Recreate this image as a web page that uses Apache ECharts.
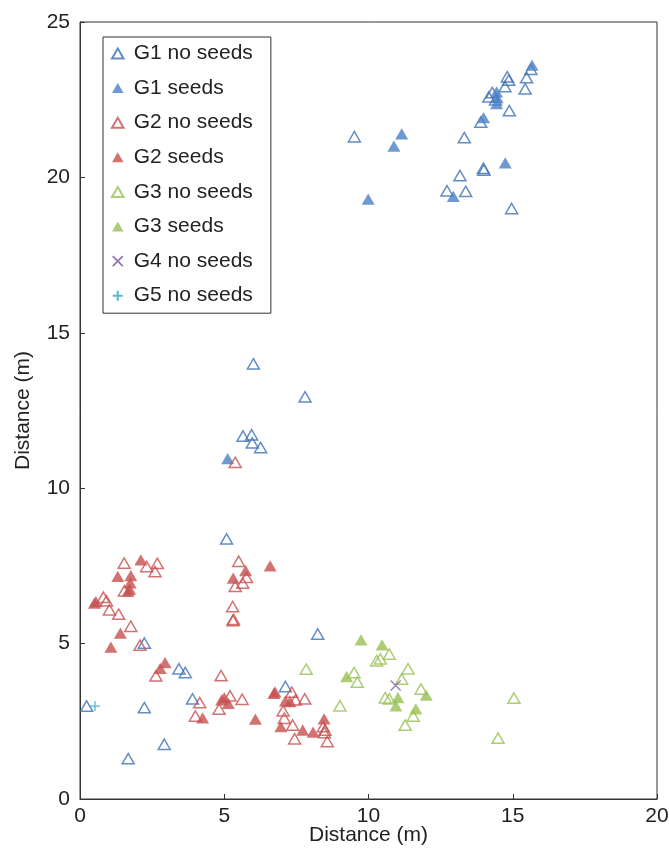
<!DOCTYPE html>
<html>
<head>
<meta charset="utf-8">
<script src="https://cdn.jsdelivr.net/npm/echarts@6/dist/echarts.min.js"></script>
<style>
  html, body { margin: 0; padding: 0; background: #fff; }
  #main { width: 669px; height: 848px; }
</style>
</head>
<body>
<div id="main"></div>
<script>
// ticks
const xTicks = [0, 5, 10, 15, 20]
const yTicks = [0, 5, 10, 15, 20, 25]

// [x, y] in metres
const g1NoSeeds = [
  [9.51, 21.31], [13.32, 21.28], [13.17, 20.06], [12.72, 19.57], [13.37, 19.55],
  [13.98, 20.29], [14.0, 20.24], [14.96, 19.0], [14.88, 22.15], [13.89, 21.78],
  [14.17, 22.59], [14.29, 22.73], [14.73, 22.92], [14.81, 23.24], [14.86, 23.13],
  [15.48, 23.21], [15.43, 22.85], [15.63, 23.48], [14.4, 22.5],
  [6.01, 14.0], [7.80, 12.94], [5.65, 11.68], [5.95, 11.72], [5.97, 11.46],
  [6.26, 11.31], [5.08, 8.37],
  [2.23, 5.02], [3.43, 4.19], [3.65, 4.07], [0.23, 2.99], [2.23, 2.94],
  [3.90, 3.22], [2.92, 1.76], [1.67, 1.30], [7.12, 3.62], [8.24, 5.31]
]
const g1Seeds = [
  [15.67, 23.61], [14.44, 22.75], [14.46, 22.57], [14.44, 22.37], [13.99, 21.92],
  [11.15, 21.40], [10.88, 21.01], [9.99, 19.30], [14.74, 20.47], [12.94, 19.39],
  [5.12, 10.95]
]
const g2NoSeeds = [
  [5.38, 10.83], [1.53, 7.59], [2.31, 7.48], [2.68, 7.58], [2.60, 7.32],
  [1.54, 6.70], [0.81, 6.49], [0.92, 6.38], [1.02, 6.09], [1.34, 5.95],
  [1.76, 5.56], [2.08, 4.95], [5.50, 7.65], [5.77, 7.13], [5.64, 6.95],
  [5.38, 6.84], [5.29, 6.19], [5.30, 5.74], [5.32, 5.78], [2.63, 3.96],
  [4.89, 3.97], [4.15, 3.10], [4.0, 2.67], [5.20, 3.32], [4.82, 2.89],
  [5.62, 3.21], [7.34, 3.44], [7.47, 3.19], [7.79, 3.22], [7.04, 2.84],
  [7.08, 2.60], [7.37, 2.38], [7.44, 1.94], [8.43, 2.33], [8.49, 2.22],
  [8.47, 2.14], [8.57, 1.85]
]
const g2Seeds = [
  [2.11, 7.69], [1.31, 7.16], [1.76, 7.19], [1.74, 6.95], [1.67, 6.69],
  [1.72, 6.75], [0.55, 6.35], [0.50, 6.30], [1.40, 5.34], [1.07, 4.89],
  [5.74, 7.35], [5.31, 7.11], [6.59, 7.50], [2.95, 4.39], [2.78, 4.20],
  [4.25, 2.61], [4.91, 3.19], [5.00, 3.26], [5.14, 3.08], [6.08, 2.57],
  [6.76, 3.45], [6.72, 3.40], [7.12, 3.16], [7.28, 3.13], [6.96, 2.33],
  [7.72, 2.22], [8.08, 2.15], [8.46, 2.58]
]
const g3NoSeeds = [
  [7.84, 4.18], [10.28, 4.45], [10.41, 4.51], [10.72, 4.66], [9.50, 4.07],
  [9.61, 3.76], [11.37, 4.19], [11.15, 3.86], [11.82, 3.54], [10.58, 3.26],
  [10.72, 3.22], [11.55, 2.67], [11.27, 2.38], [9.01, 3.0], [15.04, 3.25],
  [14.49, 1.96]
]
const g3Seeds = [
  [9.74, 5.12], [10.47, 4.96], [9.24, 3.94], [11.02, 3.26], [10.95, 3.0],
  [11.64, 2.90], [12.0, 3.34]
]
const g4NoSeeds = [[10.94, 3.65]]
const g5NoSeeds = [[0.52, 2.99]]

const FONT = '"Liberation Sans", Arial, sans-serif'
const TXT = '#222'
const blue = '#3d70b4', blueFill = '#4a7fc6'
const red = '#c6504f', green = '#98c152', purple = '#7b5ba6', cyan = '#2aa8c8'

const tri = 'path://M5,0L10,8.66L0,8.66Z'
const cross = 'path://M0,0L10,10M10,0L0,10'
const plus = 'path://M5,0L5,10M0,5L10,5'

function openTri(name, data, color) {
  return {
    name: name, type: 'scatter', data: data, symbol: tri, symbolSize: 12,
    symbolKeepAspect: true,
    itemStyle: { color: 'rgba(255,255,255,0)', borderColor: color, borderWidth: 1.5 }
  }
}
function fillTri(name, data, color) {
  return {
    name: name, type: 'scatter', data: data, symbol: tri, symbolSize: 13,
    symbolKeepAspect: true,
    itemStyle: { color: color }
  }
}
function lineMark(name, data, sym, color) {
  return {
    name: name, type: 'scatter', data: data, symbol: sym, symbolSize: 10,
    symbolKeepAspect: true,
    itemStyle: { color: 'rgba(255,255,255,0)', borderColor: color, borderWidth: 1.3 }
  }
}

var chart = echarts.init(document.getElementById('main'), null, { renderer: 'canvas' })

var option = {
  animation: false,
  backgroundColor: '#fff',
  textStyle: { fontFamily: FONT },
  grid: {
    left: 80, right: 12, top: 22, bottom: 49,
    outerBoundsMode: 'none', containLabel: false,
    show: true, borderColor: '#333', borderWidth: 1
  },
  legend: {
    orient: 'vertical', left: 103, top: 37,
    padding: [6, 18, 7, 8],
    borderColor: '#333', borderWidth: 1, backgroundColor: '#fff',
    itemWidth: 22, itemHeight: 10, itemGap: 13.6,
    symbolKeepAspect: true,
    textStyle: { fontSize: 21, color: TXT, fontFamily: FONT, lineHeight: 20 },
    data: ['G1 no seeds', 'G1 seeds', 'G2 no seeds', 'G2 seeds',
           'G3 no seeds', 'G3 seeds', 'G4 no seeds', 'G5 no seeds']
  },
  xAxis: {
    type: 'value', min: xTicks[0], max: xTicks[xTicks.length - 1], interval: 5,
    name: 'Distance (m)', nameLocation: 'middle', nameGap: 26, nameMoveOverlap: false,
    nameTextStyle: { fontSize: 21, color: TXT, fontFamily: FONT },
    axisLine: { lineStyle: { color: '#333', width: 1 } },
    axisTick: { inside: true, length: 5, lineStyle: { color: '#333' } },
    axisLabel: { fontSize: 21, color: TXT, margin: 7, fontFamily: FONT },
    splitLine: { show: false }
  },
  yAxis: {
    type: 'value', min: yTicks[0], max: yTicks[yTicks.length - 1], interval: 5,
    name: 'Distance (m)', nameLocation: 'middle', nameGap: 46, nameMoveOverlap: false,
    nameTextStyle: { fontSize: 21, color: TXT, fontFamily: FONT },
    axisLine: { show: true, lineStyle: { color: '#333', width: 1 } },
    axisTick: { show: true, inside: true, length: 5, lineStyle: { color: '#333' } },
    axisLabel: { fontSize: 21, color: TXT, margin: 10, fontFamily: FONT },
    splitLine: { show: false }
  },
  series: [
    openTri('G1 no seeds', g1NoSeeds, blue),
    fillTri('G1 seeds', g1Seeds, blueFill),
    openTri('G2 no seeds', g2NoSeeds, red),
    fillTri('G2 seeds', g2Seeds, red),
    openTri('G3 no seeds', g3NoSeeds, green),
    fillTri('G3 seeds', g3Seeds, green),
    lineMark('G4 no seeds', g4NoSeeds, cross, purple),
    lineMark('G5 no seeds', g5NoSeeds, plus, cyan)
  ]
}

chart.setOption(option)
</script>
</body>
</html>
